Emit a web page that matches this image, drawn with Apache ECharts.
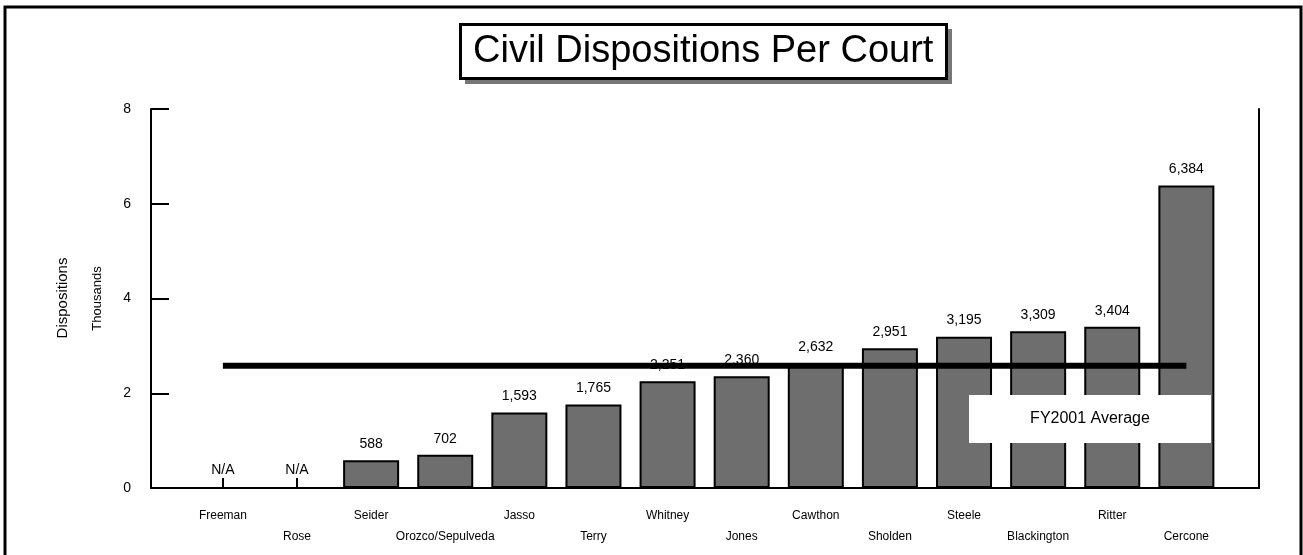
<!DOCTYPE html>
<html>
<head>
<meta charset="utf-8">
<script src="https://cdn.jsdelivr.net/npm/echarts@6/dist/echarts.min.js"></script>
<style>
html,body{margin:0;padding:0;background:#fff;}
#chart{width:1303px;height:555px;}
</style>
</head>
<body>
<div id="chart"></div>
<script>
const categories = ['Freeman','Rose','Seider','Orozco/Sepulveda','Jasso','Terry','Whitney','Jones','Cawthon','Sholden','Steele','Blackington','Ritter','Cercone'];
const dispositions = [null, null, 588, 702, 1593, 1765, 2251, 2360, 2632, 2951, 3195, 3309, 3404, 6384];
const averageValue = 2580;
const yTicks = [0, 2, 4, 6, 8];

const FONT = '"Liberation Sans", Arial, sans-serif';
const fmt = n => n.toString().replace(/\B(?=(\d{3})+(?!\d))/g, ',');

const barData = dispositions.map((v, i) => {
  if (v === null) {
    return {value: [i, 0], itemStyle: {color: 'rgba(0,0,0,0)', borderWidth: 0}, label: {formatter: 'N/A', distance: 11}};
  }
  return {value: [i, v / 1000], raw: v};
});

const chart = echarts.init(document.getElementById('chart'), null, {renderer: 'canvas'});
chart.setOption({
  animation: false,
  backgroundColor: '#ffffff',
  title: {
    text: 'Civil Dispositions Per Court',
    left: 460, top: 24,
    padding: [8, 13, 8, 13],
    borderColor: '#000', borderWidth: 3,
    backgroundColor: '#fff',
    textStyle: {fontFamily: FONT, fontSize: 38, fontWeight: 'normal', color: '#000', lineHeight: 39}
  },
  grid: {left: 151, right: 44, top: 109, bottom: 67},
  xAxis: {
    type: 'value', min: -0.97, max: 13.98,
    splitLine: {show: false},
    axisLine: {show: true, onZero: false, lineStyle: {color: '#000', width: 2}},
    axisTick: {show: true, inside: true, length: 10, customValues: categories.map((c, i) => i), lineStyle: {color: '#000', width: 2}},
    axisLabel: {
      customValues: categories.map((c, i) => i),
      margin: 17,
      fontFamily: FONT, fontSize: 12, color: '#000', lineHeight: 21,
      formatter: v => { const i = Math.round(v); return i % 2 === 1 ? '\n' + categories[i] : categories[i]; }
    }
  },
  yAxis: [{
    type: 'value', min: 0, max: 8, interval: 2,
    name: 'Thousands', nameLocation: 'middle', nameRotate: 90, nameGap: 47,
    nameTextStyle: {fontFamily: FONT, fontSize: 13, color: '#000'},
    splitLine: {show: false},
    axisLine: {show: true, onZero: false, lineStyle: {color: '#000', width: 2}},
    axisTick: {show: true, inside: true, length: 18, lineStyle: {color: '#000', width: 2}},
    axisLabel: {margin: 20, fontFamily: FONT, fontSize: 14, color: '#000',
      formatter: v => yTicks.indexOf(v) >= 0 ? String(v) : ''}
  }, {
    type: 'value', min: 0, max: 8, position: 'right',
    splitLine: {show: false},
    axisLine: {show: true, onZero: false, lineStyle: {color: '#000', width: 2}},
    axisTick: {show: false}, axisLabel: {show: false}
  }],
  series: [{
    type: 'bar',
    data: barData,
    barWidth: 56,
    z: 2,
    itemStyle: {color: '#6e6e6e', borderColor: '#000', borderWidth: 2},
    label: {
      show: true, position: 'top', distance: 9,
      fontFamily: FONT, fontSize: 14, color: '#000',
      formatter: p => p.data.raw !== undefined ? fmt(p.data.raw) : 'N/A'
    }
  }, {
    type: 'line',
    data: [[0, averageValue / 1000], [categories.length - 1, averageValue / 1000]],
    symbol: 'none',
    z: 5,
    lineStyle: {color: '#000', width: 6, cap: 'butt'}
  }],
  graphic: [
    {type: 'rect', shape: {x: 5, y: 7, width: 1296, height: 560}, style: {fill: 'none', stroke: '#000', lineWidth: 3}, z: 100, silent: true},
    {type: 'rect', shape: {x: 465, y: 29, width: 487, height: 55}, style: {fill: '#777777'}, z: -1, zlevel: 0, silent: true},
    {type: 'rect', shape: {x: 969, y: 395, width: 242, height: 48}, style: {fill: '#fff'}, z: 100},
    {type: 'text', x: 1090, y: 419, style: {text: 'FY2001 Average', fontFamily: FONT, fontSize: 16, fill: '#000', align: 'center', verticalAlign: 'middle'}, z: 101},
    {type: 'text', x: 63, y: 298, rotation: Math.PI / 2, style: {text: 'Dispositions', fontFamily: FONT, fontSize: 15, fill: '#000', align: 'center', verticalAlign: 'middle'}, z: 101}
  ]
});
</script>
</body>
</html>
